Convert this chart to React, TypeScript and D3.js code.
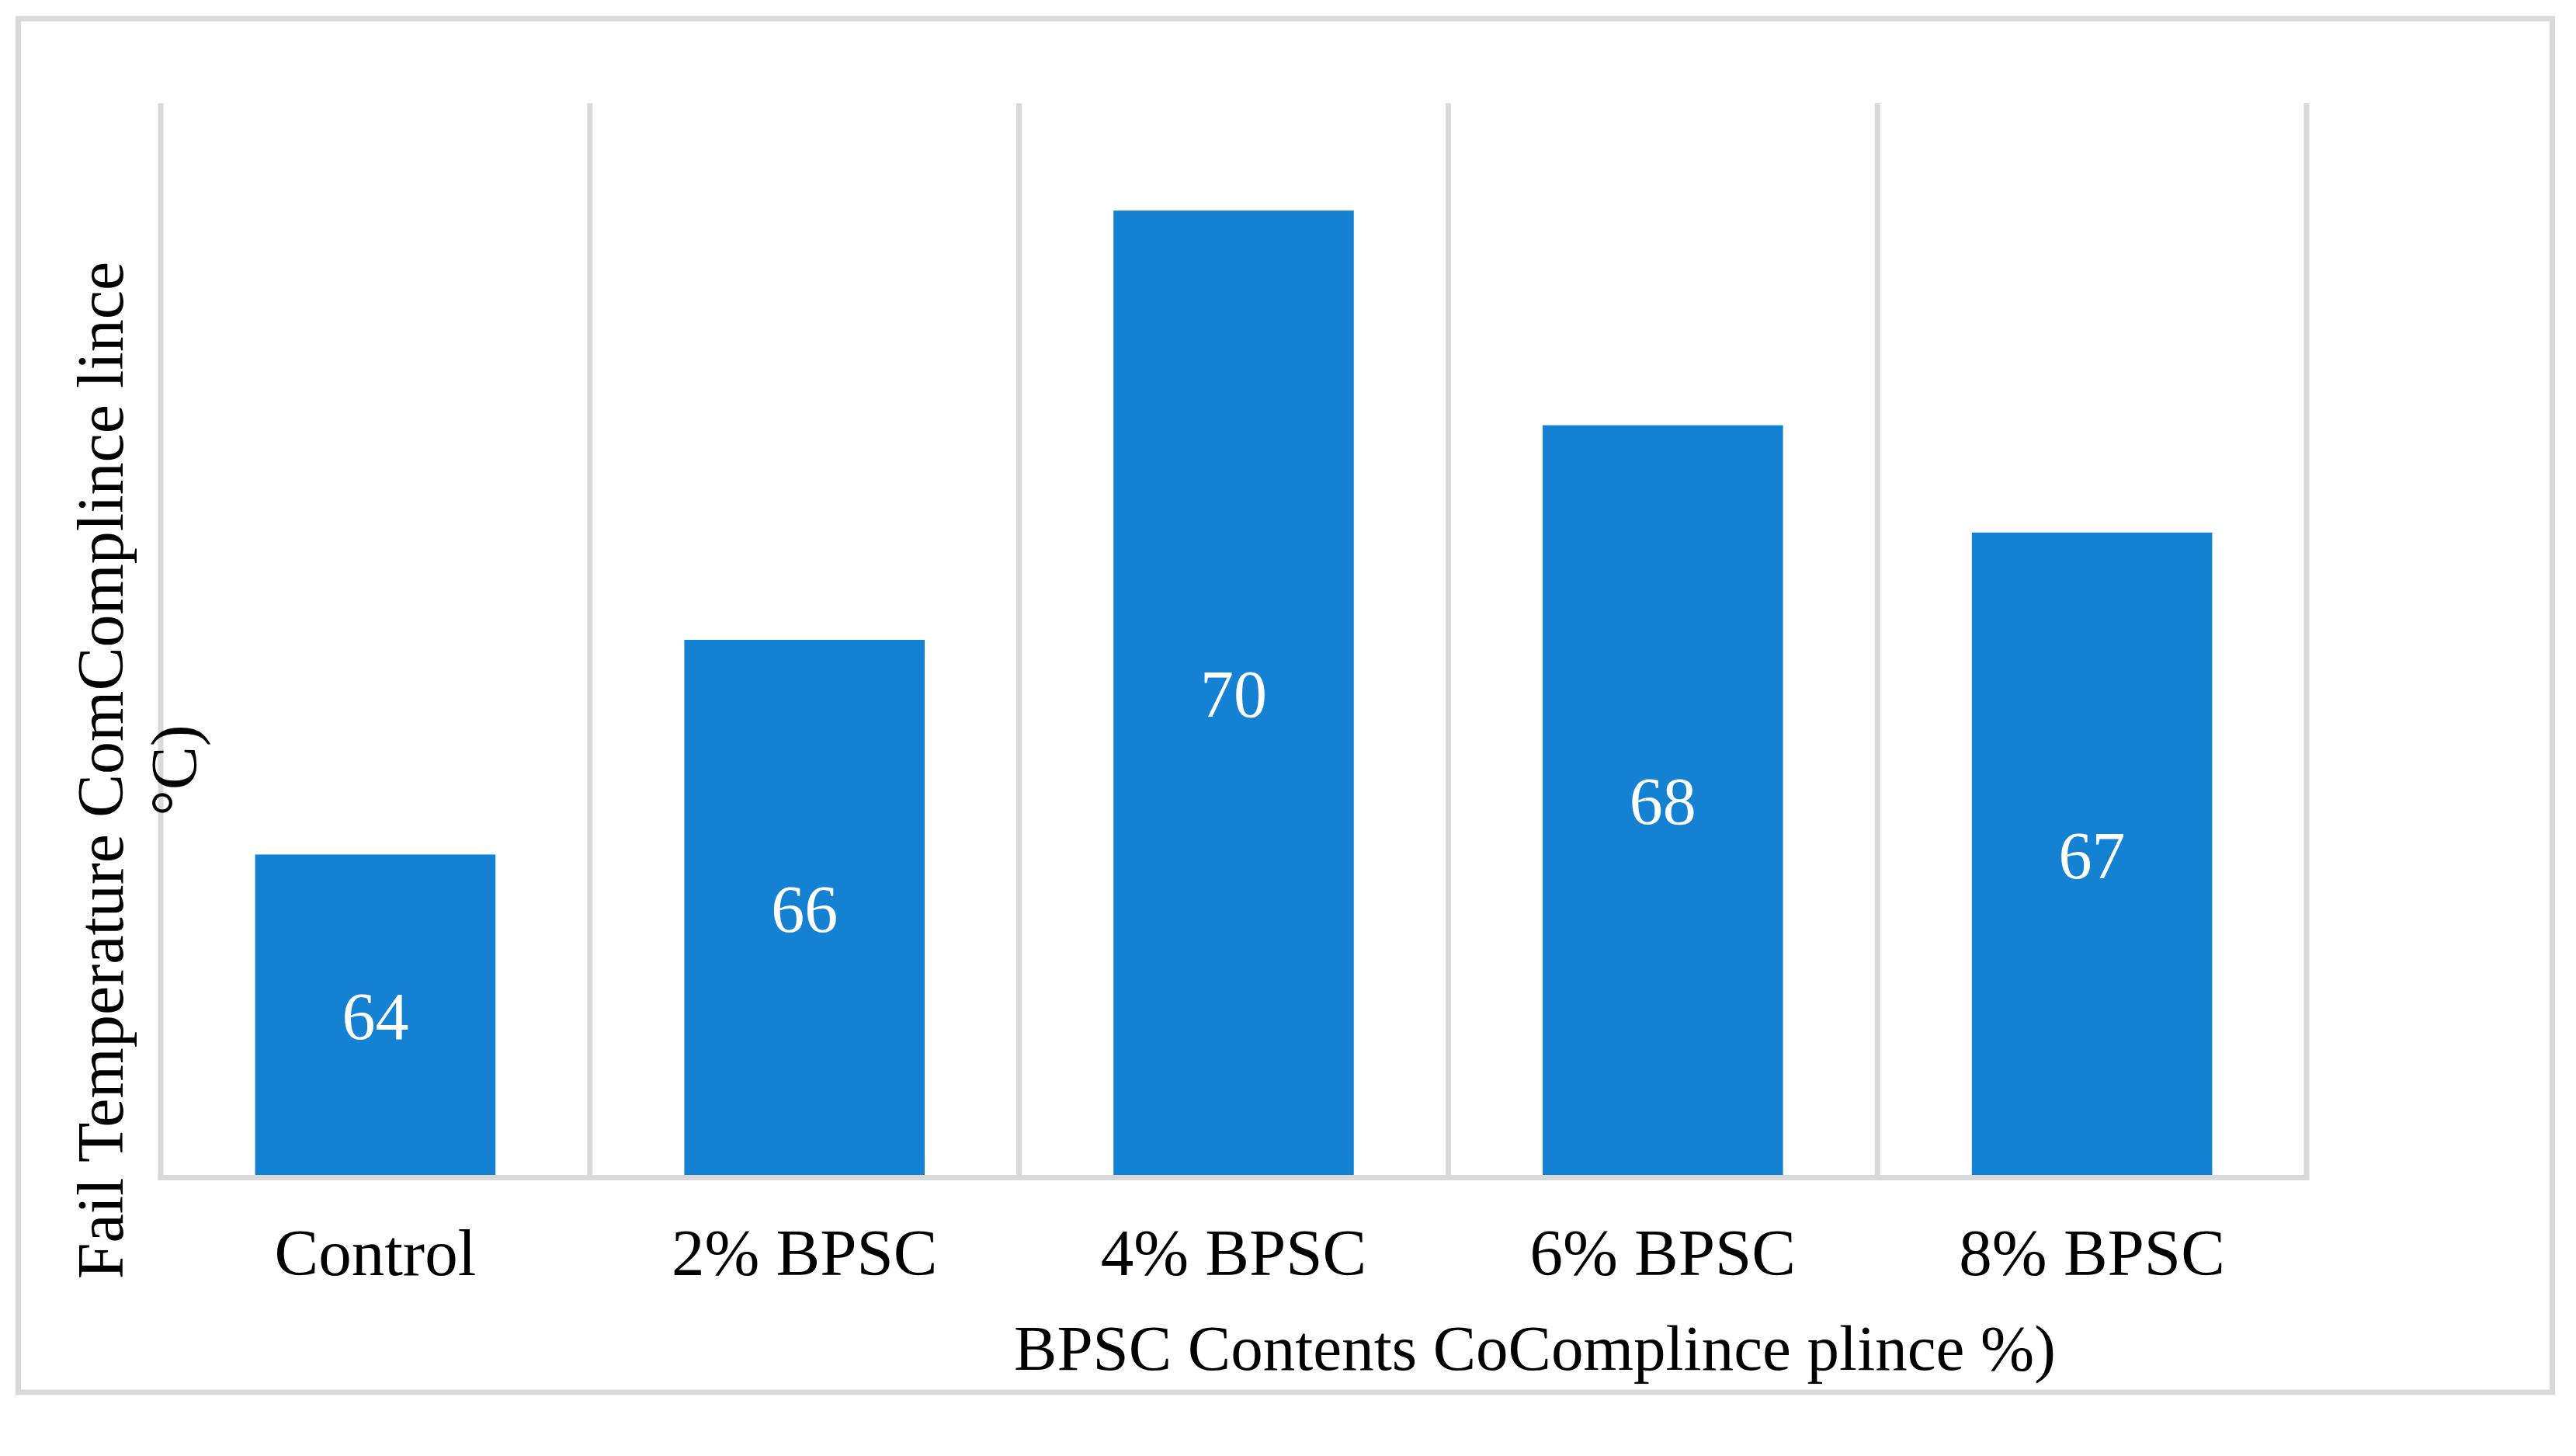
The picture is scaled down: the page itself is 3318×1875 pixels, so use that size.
import React from "react";
import * as d3 from "d3";

const categories = ["Control", "2% BPSC", "4% BPSC", "6% BPSC", "8% BPSC"];
const values = [64, 66, 70, 68, 67];
const yDomain = [61, 71];
const xTitle = "BPSC Contents CoComplince plince %)";
const yTitleLines = ["Fail Temperature ComComplince lince", "°C)"];

const W = 3318;
const H = 1875;
const plot = { left: 207, right: 2971, top: 133, bottom: 1515 };
const GRID = "#D9D9D9";
const BAR = "#1481D3";
const FONT = "'Liberation Serif', 'Times New Roman', serif";

export default function App() {
  const x = d3
    .scaleBand<string>()
    .domain(categories)
    .range([plot.left, plot.right])
    .paddingInner(0.44)
    .paddingOuter(0.22);
  const y = d3.scaleLinear().domain(yDomain).range([plot.bottom, plot.top]);
  const step = x.step();
  const gridXs = d3.range(categories.length + 1).map((i) => plot.left + i * step);

  return (
    <div style={{ position: "absolute", left: 0, top: 0 }}>
      <svg width={W} height={H} style={{ display: "block", background: "#fff" }}>
        <rect x={0} y={0} width={W} height={H} fill="#fff" />
        <rect x={23.5} y={24} width={3264} height={1769} fill="none" stroke={GRID} strokeWidth={7} />
        {gridXs.map((gx, i) => (
          <line key={i} x1={gx} x2={gx} y1={plot.top} y2={plot.bottom} stroke={GRID} strokeWidth={7} />
        ))}
        {categories.map((c, i) => (
          <rect
            key={c}
            x={x(c)}
            y={y(values[i])}
            width={x.bandwidth()}
            height={plot.bottom - y(values[i])}
            fill={BAR}
          />
        ))}
        <line x1={plot.left - 3.5} x2={plot.right + 3.5} y1={plot.bottom + 1.5} y2={plot.bottom + 1.5} stroke={GRID} strokeWidth={7} />
        {categories.map((c, i) => (
          <text
            key={"v" + c}
            x={(x(c) as number) + x.bandwidth() / 2}
            y={(y(values[i]) + plot.bottom) / 2}
            dy="0.35em"
            textAnchor="middle"
            fontFamily={FONT}
            fontSize={86}
            fill="#fff"
          >
            {values[i]}
          </text>
        ))}
        {categories.map((c) => (
          <text
            key={"t" + c}
            x={(x(c) as number) + x.bandwidth() / 2}
            y={1642}
            textAnchor="middle"
            fontFamily={FONT}
            fontSize={85}
            fill="#000"
          >
            {c}
          </text>
        ))}
        <text x={1977} y={1764} textAnchor="middle" fontFamily={FONT} fontSize={83} fill="#000">
          {xTitle}
        </text>
        {yTitleLines.map((t, i) => (
          <text
            key={"y" + i}
            transform={`translate(${158 + i * 95},992) rotate(-90)`}
            textAnchor="middle"
            fontFamily={FONT}
            fontSize={84}
            fill="#000"
          >
            {t}
          </text>
        ))}
      </svg>
    </div>
  );
}
